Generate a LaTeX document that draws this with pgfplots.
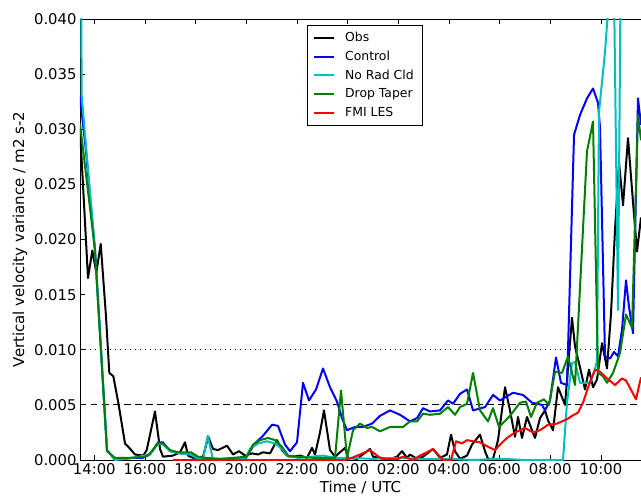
\documentclass[border=0pt]{standalone}
\usepackage{pgfplots}
\pgfplotsset{compat=1.18}
\usepackage{fontspec}
\setmainfont{DejaVu Sans}
\definecolor{mcyan}{rgb}{0,0.75,0.75}
\definecolor{mgreen}{rgb}{0,0.5,0}
\begin{document}
\begin{tikzpicture}
\begin{axis}[
  scale only axis,
  width=561pt, height=441pt,
  xmin=13.435, xmax=35.583,
  ymin=0, ymax=0.04,
  axis x line*=box, axis y line*=left,
  xtick={14,16,18,20,22,24,26,28,30,32,34},
  xticklabels={14:00,16:00,18:00,20:00,22:00,00:00,02:00,04:00,06:00,08:00,10:00},
  ytick={0,0.005,0.01,0.015,0.02,0.025,0.03,0.035,0.04},
  scaled y ticks=false,
  /pgf/number format/assume math mode=true,
  yticklabel style={/pgf/number format/.cd, fixed, fixed zerofill, precision=3},
  ticklabel style={font=\fontsize{14.8}{16}\selectfont},
  label style={font=\fontsize{15}{17}\selectfont},
  xlabel={Time / UTC},
  ylabel={Vertical velocity variance / m2 s-2},
  tick align=inside, major tick length=4.7pt,
  tick style={black, line width=0.8pt},
  axis line style={line width=0.9pt},
  legend style={at={(0.4046,0.986)}, anchor=north west, draw=black, fill=white,
    font=\fontsize{12.4}{14}\selectfont, cells={anchor=west}, row sep=3.9pt,
    column sep=8pt, inner xsep=6pt, inner ysep=5pt},
  legend image code/.code={\draw[#1] (0pt,0pt) -- (20pt,0pt);},
  every axis plot/.append style={line width=2pt, line join=round},
]
\addplot[black, line width=1pt, dash pattern=on 1pt off 4pt, forget plot] coordinates {(13.435,0.01) (35.583,0.01)};
\addplot[black, line width=1pt, dash pattern=on 6.5pt off 4.5pt, forget plot] coordinates {(13.435,0.005) (35.583,0.005)};

\addplot[black] coordinates {
(13.435,0.0300) (13.751,0.0165) (13.921,0.0190) (14.079,0.0170) (14.253,0.0196)
(14.462,0.0130) (14.592,0.0079) (14.750,0.0076) (14.947,0.0052) (15.212,0.0015)
(15.342,0.0012) (15.607,0.0005) (15.934,0.0004) (16.069,0.0009) (16.396,0.0044)
(16.594,0.0010) (16.712,0.0003) (17.107,0.0004) (17.383,0.0007) (17.581,0.0016)
(17.699,0.0004) (17.897,0.0002) (18.291,0.0003) (18.501,0.0021) (18.686,0.0010)
(18.884,0.0009) (19.239,0.0013) (19.476,0.0005) (19.713,0.0008) (19.950,0.0004)
(20.226,0.0006) (20.463,0.0005) (20.660,0.0007) (20.937,0.0006) (21.213,0.0018)
(21.410,0.0009) (21.608,0.0004) (21.845,0.0003) (22.121,0.0004) (22.397,0.0002)
(22.595,0.0011) (22.713,0.0005) (22.910,0.0025) (23.068,0.0045) (23.305,0.0009)
(23.503,0.0003) (23.700,0.0007) (23.897,0.0011) (24.016,0.0002) (24.371,0.0001)
(24.884,0.0010) (25.003,0.0003) (25.279,0.0002) (25.674,0.0001) (25.950,0.0003)
(26.148,0.0008) (26.345,0.0002) (26.463,0.0005) (26.740,0.0001) (26.977,0.0003)
(27.372,0.0010) (27.648,0.0002) (27.924,0.0005) (28.082,0.0023) (28.240,0.0008)
(28.438,0.0001) (28.714,0.0004) (28.911,0.0014) (29.227,0.0023) (29.424,0.0008)
(29.543,0.0001) (29.740,0.0001) (29.938,0.0018) (30.214,0.0066) (30.411,0.0045)
(30.609,0.0021) (30.727,0.0039) (30.885,0.0020) (31.082,0.0039) (31.280,0.0027)
(31.398,0.0020) (31.596,0.0038) (31.793,0.0045) (31.911,0.0036) (32.109,0.0027)
(32.306,0.0066) (32.583,0.0050) (32.859,0.0129) (32.977,0.0103) (33.175,0.0084)
(33.372,0.0064) (33.530,0.0082) (33.688,0.0066) (33.846,0.0073) (34.044,0.0106)
(34.241,0.0083) (34.399,0.0133) (34.557,0.0209) (34.715,0.0270) (34.873,0.0231)
(35.070,0.0292) (35.267,0.0234) (35.425,0.0189) (35.583,0.0220)
};
\addlegendentry{Obs}

\addplot[blue] coordinates {
(13.435,0.0330) (13.672,0.0280) (14.028,0.0190) (14.501,0.0009) (14.817,0.0000)
(15.528,0.0002) (15.923,0.0002) (16.199,0.0005) (16.515,0.0016) (16.712,0.0016)
(16.988,0.0008) (17.383,0.0006) (17.778,0.0005) (18.054,0.0002) (18.291,0.0001)
(19.950,0.0001) (20.345,0.0015) (20.660,0.0022) (21.016,0.0032) (21.252,0.0031)
(21.528,0.0014) (21.726,0.0008) (22.002,0.0016) (22.239,0.0070) (22.476,0.0054)
(22.752,0.0064) (23.029,0.0083) (23.305,0.0066) (23.581,0.0053) (23.779,0.0038)
(23.976,0.0027) (24.292,0.0030) (24.608,0.0030) (24.963,0.0033) (25.279,0.0040)
(25.674,0.0045) (26.069,0.0041) (26.463,0.0035) (26.740,0.0038) (26.977,0.0047)
(27.253,0.0044) (27.648,0.0045) (27.964,0.0054) (28.161,0.0051) (28.438,0.0060)
(28.714,0.0064) (28.951,0.0045) (29.425,0.0048) (29.740,0.0059) (30.017,0.0054)
(30.530,0.0061) (30.925,0.0059) (31.280,0.0052) (31.675,0.0050) (31.793,0.0045)
(31.991,0.0054) (32.228,0.0093) (32.425,0.0070) (32.662,0.0068) (32.939,0.0295)
(33.175,0.0313) (33.451,0.0328) (33.688,0.0337) (33.886,0.0324) (33.965,0.0301)
(34.162,0.0094) (34.360,0.0092) (34.518,0.0098) (34.675,0.0094) (34.833,0.0118)
(34.991,0.0163) (35.109,0.0139) (35.267,0.0115) (35.464,0.0328) (35.583,0.0304)
};
\addlegendentry{Control}

\addplot[mcyan] coordinates {
(13.435,0.0600) (13.503,0.0330) (14.028,0.0190) (14.501,0.0009) (14.817,0.0000)
(15.528,0.0002) (16.199,0.0005) (16.515,0.0015) (16.712,0.0014) (16.988,0.0008)
(17.383,0.0006) (17.778,0.0005) (18.054,0.0002) (18.291,0.0001) (18.477,0.0022)
(18.686,0.0000) (19.950,0.0001) (20.147,0.0010) (20.463,0.0015) (20.818,0.0017)
(21.134,0.0015) (21.410,0.0010) (21.647,0.0003) (22.121,0.0002) (23.029,0.0004)
(23.503,0.0002) (24.000,0.0002) (25.000,0.0001) (26.000,0.0002) (27.000,0.0001)
(28.000,0.0001) (29.000,0.0000) (29.900,0.0001) (30.200,0.0001) (31.000,0.0000)
(32.000,0.0000) (32.504,0.0000) (32.661,0.0052) (32.859,0.0088) (32.977,0.0089)
(33.175,0.0070) (33.570,0.0070) (33.728,0.0079) (33.846,0.0090) (33.925,0.0316)
(34.162,0.0370) (34.320,0.0420) (34.478,0.0500) (34.675,0.0136) (34.833,0.0600)
(35.583,0.0700)
};
\addlegendentry{No Rad Cld}

\addplot[mgreen] coordinates {
(13.435,0.0305) (14.028,0.0190) (14.501,0.0008) (14.817,0.0002) (15.449,0.0002)
(16.002,0.0003) (16.199,0.0006) (16.515,0.0015) (16.712,0.0015) (16.988,0.0009)
(17.304,0.0007) (17.817,0.0007) (18.094,0.0003) (18.370,0.0002) (18.962,0.0001)
(20.028,0.0003) (20.265,0.0014) (20.541,0.0018) (20.857,0.0020) (21.134,0.0018)
(21.410,0.0012) (21.647,0.0004) (22.002,0.0003) (22.634,0.0002) (23.503,0.0002)
(23.739,0.0063) (23.976,0.0002) (24.213,0.0027) (24.489,0.0033) (24.766,0.0029)
(24.963,0.0030) (25.279,0.0026) (25.674,0.0030) (26.187,0.0030) (26.463,0.0035)
(26.740,0.0035) (26.977,0.0042) (27.253,0.0041) (27.648,0.0042) (27.964,0.0048)
(28.240,0.0041) (28.438,0.0048) (28.714,0.0051) (28.951,0.0079) (29.227,0.0045)
(29.543,0.0035) (29.740,0.0047) (29.977,0.0030) (30.411,0.0040) (30.806,0.0052)
(31.043,0.0053) (31.240,0.0039) (31.477,0.0052) (31.753,0.0055) (31.951,0.0050)
(32.188,0.0080) (32.464,0.0079) (32.701,0.0094) (32.977,0.0068) (33.451,0.0280)
(33.688,0.0307) (33.886,0.0079) (34.083,0.0076) (34.241,0.0070) (34.478,0.0079)
(34.754,0.0097) (34.991,0.0132) (35.228,0.0120) (35.464,0.0313) (35.583,0.0290)
};
\addlegendentry{Drop Taper}

\addplot[red] coordinates {
(17.107,0.0000) (20.000,0.0000) (22.000,0.0000) (23.897,0.0000) (24.174,0.0002)
(24.489,0.0005) (24.884,0.0009) (25.161,0.0004) (25.358,0.0001) (25.950,0.0001)
(26.187,0.0003) (26.582,0.0000) (26.858,0.0004) (27.135,0.0007) (27.372,0.0010)
(27.569,0.0005) (27.766,0.0000) (28.082,0.0000) (28.280,0.0017) (28.517,0.0015)
(28.714,0.0018) (28.951,0.0017) (29.227,0.0016) (29.543,0.0012) (29.819,0.0009)
(30.017,0.0014) (30.293,0.0020) (30.609,0.0025) (31.004,0.0029) (31.320,0.0025)
(31.596,0.0027) (31.912,0.0032) (32.267,0.0033) (32.662,0.0037) (32.859,0.0040)
(33.096,0.0043) (33.293,0.0052) (33.570,0.0071) (33.767,0.0082) (33.965,0.0080)
(34.241,0.0074) (34.557,0.0068) (34.833,0.0074) (34.991,0.0072) (35.228,0.0062)
(35.385,0.0055) (35.583,0.0075)
};
\addlegendentry{FMI LES}
\end{axis}
\pgfresetboundingbox
\path ([xshift=-80pt,yshift=-40pt]current axis.south west) rectangle ([yshift=19pt]current axis.north east);
\end{tikzpicture}
\end{document}
